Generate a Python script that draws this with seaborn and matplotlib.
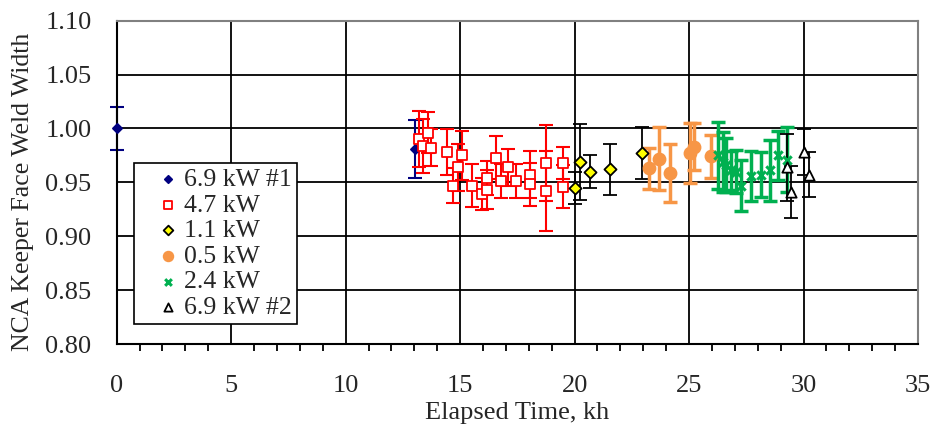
import numpy as np
import pandas as pd
import seaborn as sns
import matplotlib.pyplot as plt
from matplotlib.ticker import MultipleLocator

# 6.9 kW #1
blue_x = [0.0, 13.03]
blue_y = [1.000, 0.981]
blue_err = [0.020, 0.027]

# 4.7 kW
red_x = [13.2, 13.37, 13.6, 13.72, 14.42, 14.71, 14.89, 15.07, 15.51, 15.95, 16.17,
         16.17, 16.56, 16.79, 17.1, 17.44, 18.05, 18.05, 18.75, 18.75, 19.49, 19.49]
red_y = [0.990, 0.984, 0.996, 0.982, 0.978, 0.947, 0.964, 0.975, 0.947, 0.939, 0.954,
         0.943, 0.973, 0.951, 0.964, 0.951, 0.957, 0.948, 0.968, 0.942, 0.968, 0.946]
red_err = [0.026, 0.025, 0.019, 0.017, 0.021, 0.016, 0.022, 0.023, 0.020, 0.015, 0.016,
           0.018, 0.020, 0.016, 0.017, 0.016, 0.022, 0.020, 0.035, 0.037, 0.015, 0.020]

# 1.1 kW
yel_x = [20.0, 20.25, 20.68, 21.53, 22.94]
yel_y = [0.945, 0.969, 0.960, 0.962, 0.977]
yel_err = [0.015, 0.035, 0.015, 0.024, 0.024]

# 0.5 kW
org_x = [23.23, 23.67, 24.17, 25.05, 25.2, 25.95]
org_y = [0.963, 0.972, 0.959, 0.977, 0.983, 0.974]
org_err = [0.019, 0.029, 0.027, 0.028, 0.022, 0.020]

# 2.4 kW
grn_x = [26.26, 26.48, 26.62, 26.84, 27.03, 27.28, 27.71, 28.15, 28.52, 28.88, 29.28]
grn_y = [0.975, 0.969, 0.966, 0.961, 0.960, 0.947, 0.956, 0.957, 0.961, 0.975, 0.971]
grn_err = [0.031, 0.028, 0.025, 0.018, 0.020, 0.024, 0.023, 0.021, 0.028, 0.023, 0.030]

# 6.9 kW #2
tri_x = [29.28, 29.46, 30.01, 30.23]
tri_y = [0.964, 0.941, 0.978, 0.957]
tri_err = [0.031, 0.024, 0.021, 0.021]

series = [
    # label, x, y, err, marker, size, face, edge, bar colour, bar width
    ("6.9 kW #1", blue_x, blue_y, blue_err, "D", 22, "#000080", "#000080", "#000080", 1.5),
    ("4.7 kW", red_x, red_y, red_err, "s", 55, "white", "#FF0000", "#FF0000", 1.5),
    ("1.1 kW", yel_x, yel_y, yel_err, "D", 38, "#FFFF00", "black", "black", 1.3),
    ("0.5 kW", org_x, org_y, org_err, "o", 75, "#F79646", "#F79646", "#F79646", 2.5),
    ("2.4 kW", grn_x, grn_y, grn_err, "x", 36, "#00B050", "#00B050", "#00B050", 2.5),
    ("6.9 kW #2", tri_x, tri_y, tri_err, "^", 55, "white", "black", "black", 1.3),
]

sns.set_theme(style="white")
plt.rcParams['font.family'] = ['Liberation Serif', 'DejaVu Serif']

fig, ax = plt.subplots(figsize=(9.33, 4.29), dpi=100)
fig.subplots_adjust(left=0.125, right=0.984, top=0.952, bottom=0.198)

for label, xs, ys, es, mk, sz, fc, ec, bc, bw in series:
    eb = ax.errorbar(xs, ys, yerr=es, fmt="none", ecolor=bc, elinewidth=bw,
                     capsize=5, capthick=bw, zorder=2)
    for art in eb.lines[1] + eb.lines[2]:
        art.set_clip_on(False)
    df = pd.DataFrame({"x": xs, "y": ys})
    if mk == "x":
        sns.scatterplot(data=df, x="x", y="y", marker=mk, s=sz, color=fc,
                        linewidth=2.2, label=label, ax=ax, zorder=3, clip_on=False)
    else:
        sns.scatterplot(data=df, x="x", y="y", marker=mk, s=sz, color=fc,
                        edgecolor=ec, linewidth=1.3, label=label, ax=ax, zorder=3,
                        clip_on=False)

ax.set_xlim(0, 35)
ax.set_ylim(0.80, 1.10)
ax.xaxis.set_major_locator(MultipleLocator(5))
ax.xaxis.set_minor_locator(MultipleLocator(1))
ax.yaxis.set_major_locator(MultipleLocator(0.05))
ax.yaxis.set_major_formatter(plt.FormatStrFormatter("%.2f"))

ax.grid(True, which="major", color="black", linewidth=1.3)
ax.set_axisbelow(True)
ax.tick_params(axis="both", which="major", direction="out", length=6, width=1.3,
               labelsize=19, color="black")
ax.tick_params(axis="x", which="minor", direction="out", length=5, width=1.3,
               bottom=True, color="black")
ax.tick_params(axis="x", which="major", pad=16)
ax.tick_params(axis="y", which="major", pad=12)

for side in ["left", "bottom"]:
    ax.spines[side].set_color("black")
    ax.spines[side].set_linewidth(1.5)
for side in ["top", "right"]:
    ax.spines[side].set_color("#808080")
    ax.spines[side].set_linewidth(1.5)

ax.set_xlabel("Elapsed Time, kh", fontsize=19, labelpad=4)
ax.set_ylabel("NCA Keeper Face Weld Width", fontsize=18.5)
ax.yaxis.set_label_coords(-0.103, 0.472)

leg = ax.legend(loc="upper left", bbox_to_anchor=(0.022, 0.56), fontsize=18.5,
                frameon=True, fancybox=False, borderpad=0.2, labelspacing=0.1,
                handletextpad=-0.45, handlelength=2.2, borderaxespad=0, markerscale=0.8)
leg.get_frame().set_edgecolor("black")
leg.get_frame().set_linewidth(1.2)
leg.get_frame().set_alpha(1)

fig.savefig("out.png", dpi=100)
